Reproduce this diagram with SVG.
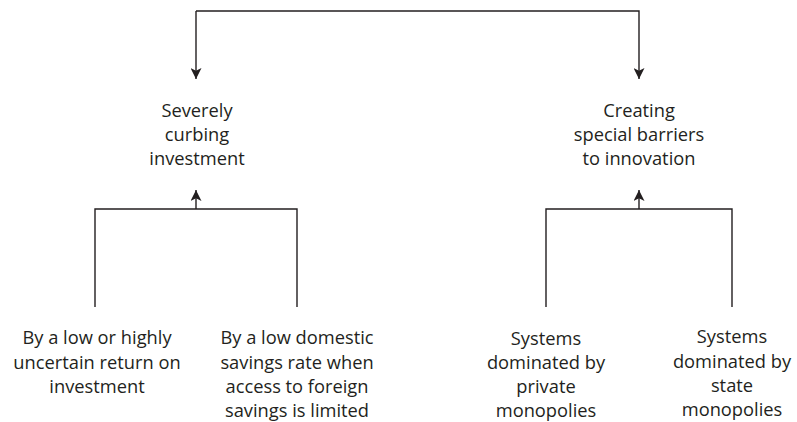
<svg xmlns="http://www.w3.org/2000/svg" width="797" height="422" viewBox="0 0 797 422">
<style>
text{font-family:"Open Sans","Liberation Sans",sans-serif;font-size:18.3px;fill:#231f20;text-anchor:middle}
.c{fill:none;stroke:#231f20;stroke-width:1.4}
</style>
<defs>
<marker id="ah" viewBox="0 0 10 10" refX="10" refY="5" markerWidth="11" markerHeight="11" markerUnits="userSpaceOnUse" orient="auto">
<path d="M0,0 L10,5 L0,10 L2.5,5 Z" fill="#231f20"/>
</marker>
</defs>
<rect width="797" height="422" fill="#fff"/>
<g id="connectors">
<path class="c" d="M196,11 V79" marker-end="url(#ah)"/>
<path class="c" d="M196,11 H639 V79" marker-end="url(#ah)"/>
<path class="c" d="M95,307 V209 H297 V307"/>
<path class="c" d="M196,209 V190" marker-end="url(#ah)"/>
<path class="c" d="M546,307 V209 H732 V307"/>
<path class="c" d="M639,209 V190" marker-end="url(#ah)"/>
</g>
<g id="n1"><text x="197" y="117">Severely</text><text x="197" y="141">curbing</text><text x="197" y="165">investment</text></g>
<g id="n2"><text x="639" y="117">Creating</text><text x="639" y="141">special barriers</text><text x="639" y="165">to innovation</text></g>
<g id="n3"><text x="97" y="344">By a low or highly</text><text x="97" y="369">uncertain return on</text><text x="97" y="393">investment</text></g>
<g id="n4"><text x="297" y="344">By a low domestic</text><text x="297" y="369">savings rate when</text><text x="297" y="393">access to foreign</text><text x="297" y="417">savings is limited</text></g>
<g id="n5"><text x="546" y="345">Systems</text><text x="546" y="369">dominated by</text><text x="546" y="393">private</text><text x="546" y="417">monopolies</text></g>
<g id="n6"><text x="732" y="343">Systems</text><text x="732" y="368">dominated by</text><text x="732" y="392">state</text><text x="732" y="416">monopolies</text></g>
</svg>
